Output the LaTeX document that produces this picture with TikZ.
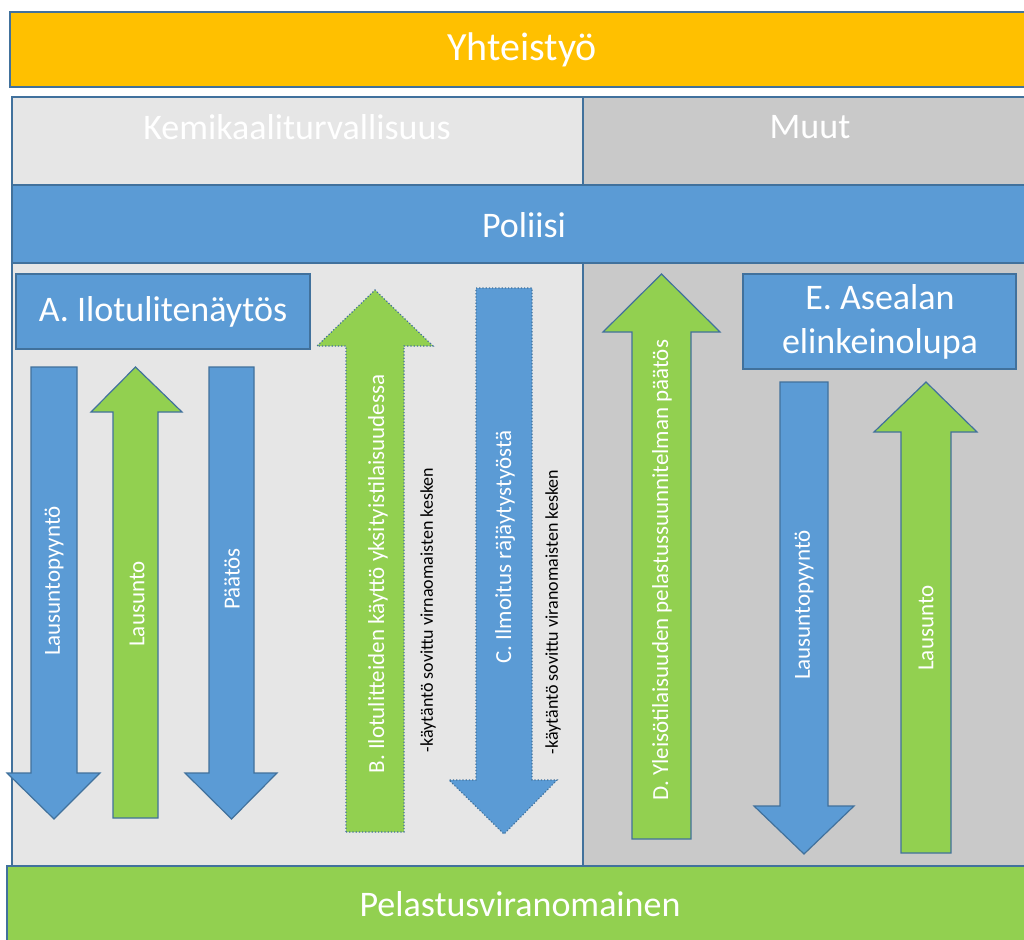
\documentclass[tikz,border=0pt]{standalone}
\usepackage{fontspec}
\setmainfont{Carlito}

\definecolor{yhtcol}{HTML}{FFC000}
\definecolor{bluecol}{HTML}{5B9BD5}
\definecolor{greencol}{HTML}{92D050}
\definecolor{kemcol}{HTML}{E6E6E6}
\definecolor{muucol}{HTML}{C9C9C9}
\definecolor{edgecol}{HTML}{41719C}

% arrow outline: [style]{shaft left}{shaft right}{base}{wing left}{wing right}{wing y}{tip y}
\newcommand{\arrowShape}[8][]{%
  \filldraw[#1] (#2,#4) -- (#3,#4) -- (#3,#7) -- (#6,#7) -- ({(#2+#3)/2},#8)
    -- (#5,#7) -- (#2,#7) -- cycle;}

\def\xL{12}
\def\xM{583}
\def\xR{1030}

\begin{document}
\begin{tikzpicture}[x=1pt, y=-1pt,
    box/.style={draw=edgecol, line width=1.2pt},
    big/.style={text=white, inner sep=0pt, font=\fontsize{36}{44}\selectfont},
    vlbl/.style={text=white, inner sep=0pt, rotate=90, font=\fontsize{23}{27}\selectfont},
    note/.style={text=black, inner sep=0pt, rotate=90, font=\fontsize{18}{22}\selectfont},
    bluearr/.style={box, fill=bluecol},
    greenarr/.style={box, fill=greencol}]
  \useasboundingbox (0,0) rectangle (1024,939);
  \clip (0,0) rectangle (1024,939);

  % bars and panels
  \filldraw[box, fill=yhtcol] (10,12) rectangle (\xR,87);
  \filldraw[box, fill=kemcol] (\xL,97) rectangle (\xM,185);
  \filldraw[box, fill=muucol] (\xM,97) rectangle (\xR,185);
  \filldraw[box, fill=bluecol] (\xL,185) rectangle (\xR,263);
  \filldraw[box, fill=kemcol] (\xL,263) rectangle (\xM,866);
  \filldraw[box, fill=muucol] (\xM,263) rectangle (\xR,866);

  \node[big, font=\fontsize{40}{48}\selectfont] (yht) at (522,50) {Yhteistyö};
  \node[big] (kem) at (297,127) {Kemikaaliturvallisuus};
  \node[big] (muut) at (810,127) {Muut};
  \node[big] (pol) at (524,225) {Poliisi};

  % A
  \filldraw[box, fill=bluecol] (16,274) rectangle (310,349);
  \node[big] (boxA) at (163,312) {A. Ilotulitenäytös};
  \arrowShape[bluearr]{31}{77}{367}{7}{100}{773}{819}
  \arrowShape[greenarr]{113}{158}{818}{91}{182}{412}{367}
  \arrowShape[bluearr]{209}{254}{367}{185}{277}{773}{819}
  \node[vlbl] (a1) at (54,581) {Lausuntopyyntö};
  \node[vlbl] (a2) at (137,604) {Lausunto};
  \node[vlbl] (a3) at (232,579) {Päätös};

  % B and C
  \arrowShape[greenarr, dotted]{346}{404}{832}{317}{433}{346}{290}
  \arrowShape[bluearr, dotted]{476}{532}{288}{449}{557}{780}{834}
  \node[vlbl] (b) at (378,574) {B. Ilotulitteiden käyttö yksityistilaisuudessa};
  \node[note] (bnote) at (428,610) {-käytäntö sovittu virnaomaisten kesken};
  \node[vlbl] (c) at (505,547) {C. Ilmoitus räjäytystyöstä};
  \node[note] (cnote) at (553,612) {-käytäntö sovittu viranomaisten kesken};

  % D
  \arrowShape[greenarr]{632}{691}{839}{603}{720}{332}{274}
  \node[vlbl] (d) at (662,570) {D. Yleisötilaisuuden pelastussuunnitelman päätös};

  % E
  \filldraw[box, fill=bluecol] (743,274) rectangle (1016,369);
  \node[big, align=center] (boxE) at (880,322) {E. Asealan\\elinkeinolupa};
  \arrowShape[bluearr]{780}{828}{382}{754}{854}{806}{854}
  \arrowShape[greenarr]{901}{951}{853}{874}{977}{432}{382}
  \node[vlbl] (e1) at (804,605) {Lausuntopyyntö};
  \node[vlbl] (e2) at (926,628) {Lausunto};

  % bottom bar
  \filldraw[box, fill=greencol] (7,866) rectangle (\xR,945);
  \node[big] (pel) at (520,904) {Pelastusviranomainen};
\end{tikzpicture}
\end{document}
